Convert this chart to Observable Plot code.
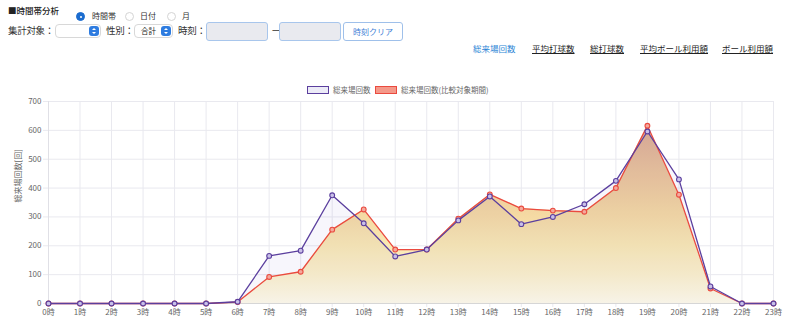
<!DOCTYPE html>
<html><head><meta charset="utf-8">
<script src="https://cdn.jsdelivr.net/npm/d3@7"></script>
<script src="https://cdn.jsdelivr.net/npm/@observablehq/plot@0.6"></script>
<style>
body{margin:0;width:788px;height:325px;position:relative;overflow:hidden;background:#fff;font-family:"Noto Sans CJK JP","Noto Sans",sans-serif;color:#222}
.a{position:absolute;white-space:nowrap}
.radio{position:absolute;width:9px;height:9px;border-radius:50%;border:1px solid #d4d4d4;background:#fff;box-sizing:border-box}
.radio.on{background:#1b6ccf;border-color:#1b6ccf}
.radio.on::after{content:"";position:absolute;left:2.5px;top:2.5px;width:2px;height:2px;border-radius:50%;background:#fff}
.sel{position:absolute;height:14px;border:1px solid #d8d8d8;border-radius:4px;background:#fff;box-sizing:border-box;font-size:7.5px;line-height:12px;padding-left:6px}
.sel i{position:absolute;right:1px;top:1px;width:10px;height:10px;border-radius:3px;background:#2e7ce0}
.sel i::before{content:"";position:absolute;left:3px;top:1.5px;border-left:2px solid transparent;border-right:2px solid transparent;border-bottom:2.5px solid #fff}
.sel i::after{content:"";position:absolute;left:3px;top:6px;border-left:2px solid transparent;border-right:2px solid transparent;border-top:2.5px solid #fff}
.inp{position:absolute;height:19px;border:1px solid #a8c6ec;border-radius:3px;background:#e9eaef;box-sizing:border-box}
.lbl{position:absolute;white-space:nowrap;font-size:9.5px;letter-spacing:-0.3px;color:#333}
.tab{position:absolute;font-size:8.5px;text-decoration:underline;color:#222}
</style></head>
<body>
<div class="a" style="left:8px;top:4px;font-size:8.5px;font-weight:500;">■時間帯分析</div>
<div class="radio on" style="left:76px;top:12px"></div>
<div class="a" style="left:92px;top:10px;font-size:8px;color:#333">時間帯</div>
<div class="radio" style="left:125px;top:12px"></div>
<div class="a" style="left:140px;top:10px;font-size:8px;color:#333">日付</div>
<div class="radio" style="left:167px;top:12px"></div>
<div class="a" style="left:182px;top:10px;font-size:8px;color:#333">月</div>
<div class="lbl" style="left:8px;top:23px;">集計対象：</div>
<div class="sel" style="left:55px;top:24px;width:46px"><i></i></div>
<div class="lbl" style="left:106px;top:23px;">性別：</div>
<div class="sel" style="left:134px;top:24px;width:39px">合計<i></i></div>
<div class="lbl" style="left:178px;top:23px;">時刻：</div>
<div class="inp" style="left:206px;top:22px;width:62px"></div>
<div class="a" style="left:271px;top:22px;font-size:10px;">－</div>
<div class="inp" style="left:279px;top:22px;width:62px"></div>
<div class="a" style="left:343px;top:22px;width:60px;height:19px;border:1px solid #9fc0ea;border-radius:3px;box-sizing:border-box;font-size:8px;color:#3f7fd6;text-align:center;line-height:17px;">時刻クリア</div>
<div class="tab" style="left:473px;top:42px;color:#2d86d6;text-decoration:none">総来場回数</div>
<div class="tab" style="left:532px;top:42px">平均打球数</div>
<div class="tab" style="left:590px;top:42px">総打球数</div>
<div class="tab" style="left:640px;top:42px">平均ボール利用額</div>
<div class="tab" style="left:722px;top:42px">ボール利用額</div>

<div class="a" style="left:307px;top:86px;width:22px;height:8px;border:1.5px solid #5b3f9e;background:#ecebf7;box-sizing:border-box"></div>
<div class="a" style="left:333px;top:84px;font-size:7.5px;color:#666">総来場回数</div>
<div class="a" style="left:375px;top:86px;width:22px;height:8px;border:1.5px solid #ea4a3f;background:#f4998a;box-sizing:border-box"></div>
<div class="a" style="left:401px;top:84px;font-size:7.5px;color:#666">総来場回数(比較対象期間)</div>

<div id="chart" class="a" style="left:0;top:94px;line-height:0"></div>
<script>
const hourLabels = ["0時","1時","2時","3時","4時","5時","6時","7時","8時","9時","10時","11時","12時","13時","14時","15時","16時","17時","18時","19時","20時","21時","22時","23時"];
const currentVisits = [0,0,0,0,0,0,6,165,183,375,278,163,187,288,371,275,300,344,425,596,430,59,0,0];
const compareVisits = [0,0,0,0,0,0,5,92,110,256,326,187,187,294,378,329,322,318,400,616,377,52,0,0];
const yTicks = [0,100,200,300,400,500,600,700];

const cur = hourLabels.map((h,i)=>({h, v: currentVisits[i]}));
const cmp = hourLabels.map((h,i)=>({h, v: compareVisits[i]}));

const purple = "#5b3f9e", red = "#ea4a3f", grid = "#e9e9ef";
const chart = Plot.plot({
  width: 788, height: 231,
  marginTop: 7, marginBottom: 22, marginLeft: 48, marginRight: 15,
  style: {fontFamily: "'Noto Sans CJK JP', sans-serif", fontSize: "8px", color: "#666", background: "transparent"},
  x: {type: "point", domain: hourLabels, padding: 0, round: false, label: null},
  y: {domain: [0,700], label: null, ticks: yTicks},
  marks: [
    Plot.gridY(yTicks, {stroke: grid, strokeOpacity: 1}),
    Plot.gridX(hourLabels, {stroke: grid, strokeOpacity: 1}),
    Plot.axisY(yTicks, {tickSize: 5, tickPadding: 2, stroke: grid, fill: "#666", label: null}),
    Plot.axisX(hourLabels, {tickSize: 4, tickPadding: 2, stroke: grid, fill: "#666", label: null}),
    Plot.areaY(cmp, {x: "h", y: "v", fill: "url(#yg)", fillOpacity: 1, curve: "linear"}),
    Plot.areaY(cur, {x: "h", y: "v", fill: "#6a55c8", fillOpacity: 0.05, curve: "linear"}),
    Plot.ruleY([0], {stroke: "#d6d6d6"}),
    Plot.ruleX([hourLabels[0]], {stroke: "#e0e0e6"}),
    Plot.line(cmp, {x: "h", y: "v", stroke: red, strokeWidth: 1.3}),
    Plot.dot(cmp, {x: "h", y: "v", r: 2.4, stroke: red, fill: "#f4a99c", strokeWidth: 1.1}),
    Plot.line(cur, {x: "h", y: "v", stroke: purple, strokeWidth: 1.3}),
    Plot.dot(cur, {x: "h", y: "v", r: 2.4, stroke: purple, fill: "#c9c0e8", strokeWidth: 1.1}),
    Plot.text(["総来場回数[回]"], {frameAnchor: "left", dx: -30, rotate: -90, fill: "#666", fontSize: 8})
  ]
});
const ys = chart.scale("y");
const y700 = ys.apply(700), y0 = ys.apply(0);
const defs = document.createElementNS("http://www.w3.org/2000/svg","defs");
defs.innerHTML = `<linearGradient id="yg" gradientUnits="userSpaceOnUse" x1="0" x2="0" y1="${y700}" y2="${y0}">
  <stop offset="0" stop-color="#d6a08e"/>
  <stop offset="0.14" stop-color="#dcad93"/>
  <stop offset="0.43" stop-color="#eecb9c"/>
  <stop offset="0.57" stop-color="#f5daa3"/>
  <stop offset="0.71" stop-color="#f9e8b3"/>
  <stop offset="0.86" stop-color="#fcf2cb"/>
  <stop offset="1" stop-color="#fffce9"/>
</linearGradient>`;
chart.insertBefore(defs, chart.firstChild);
document.getElementById("chart").appendChild(chart);
</script>
</body></html>
